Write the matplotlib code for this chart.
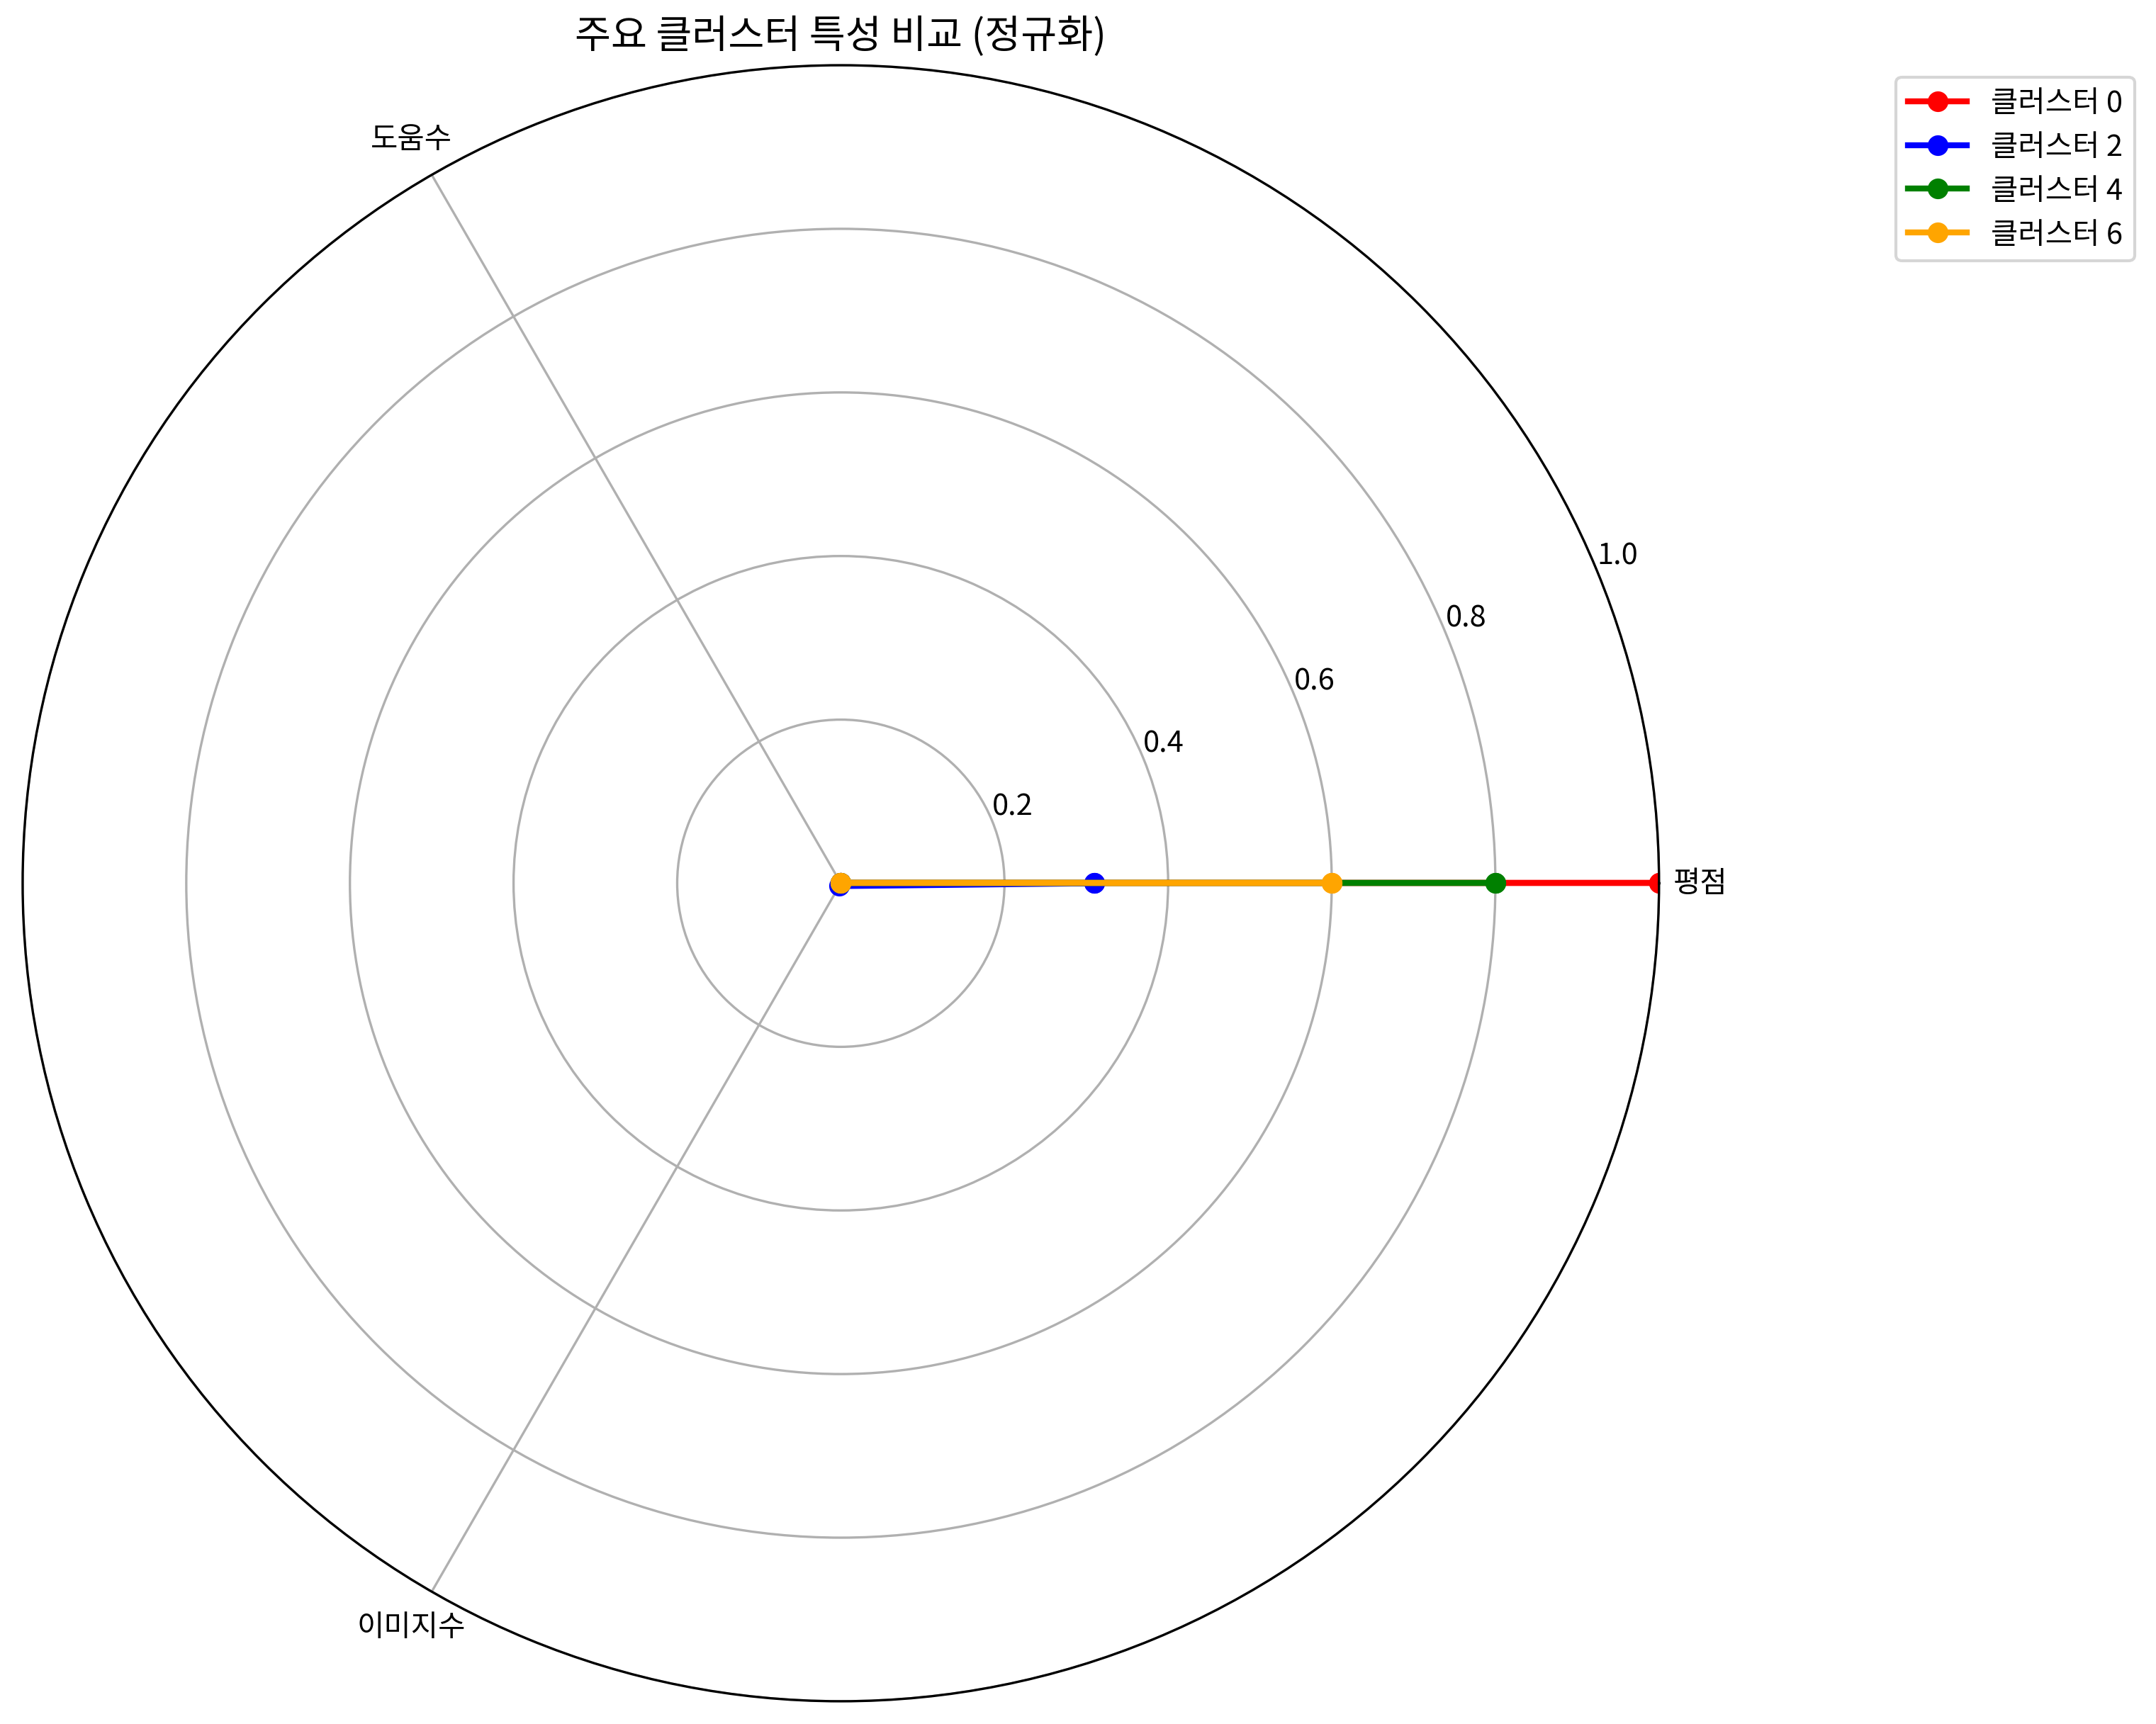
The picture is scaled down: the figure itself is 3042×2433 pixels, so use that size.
import numpy as np
import matplotlib
matplotlib.use('Agg')
import matplotlib.pyplot as plt

plt.rcParams['font.family'] = ['Noto Sans CJK KR', 'DejaVu Sans']

# Features and normalized cluster values
features = ['평점', '도움수', '이미지수']
clusters = ['클러스터 0', '클러스터 2', '클러스터 4', '클러스터 6']
cluster0 = [1.0, 0.0, 0.0]
cluster2 = [0.31, 0.0, 0.004]
cluster4 = [0.8, 0.0, 0.0]
cluster6 = [0.6, 0.0, 0.0]
colors = ['red', 'blue', 'green', 'orange']

values_list = [cluster0, cluster2, cluster4, cluster6]

angles = np.linspace(0, 2 * np.pi, len(features), endpoint=False).tolist()
angles += angles[:1]

fig = plt.figure(figsize=(10.14, 8.113), dpi=300)
ax = fig.add_axes([0.0105, 0.013, 0.759, 0.949], polar=True)

for name, vals, c in zip(clusters, values_list, colors):
    v = vals + vals[:1]
    ax.plot(angles, v, 'o-', linewidth=2, color=c, label=name)
    ax.fill(angles, v, alpha=0.25, color=c)

ax.set_xticks(angles[:-1])
ax.set_xticklabels(features, fontsize=10)
ax.set_ylim(0, 1.0)
ax.set_yticks([0.2, 0.4, 0.6, 0.8, 1.0])
ax.set_yticklabels(['0.2', '0.4', '0.6', '0.8', '1.0'], fontsize=10)
ax.set_title('주요 클러스터 특성 비교 (정규화)', fontsize=13.3, pad=6)

ax.legend(loc='upper right', bbox_to_anchor=(0.99, 0.955),
          bbox_transform=fig.transFigure, borderaxespad=0, fontsize=10)

fig.savefig('out.png', dpi=300)
